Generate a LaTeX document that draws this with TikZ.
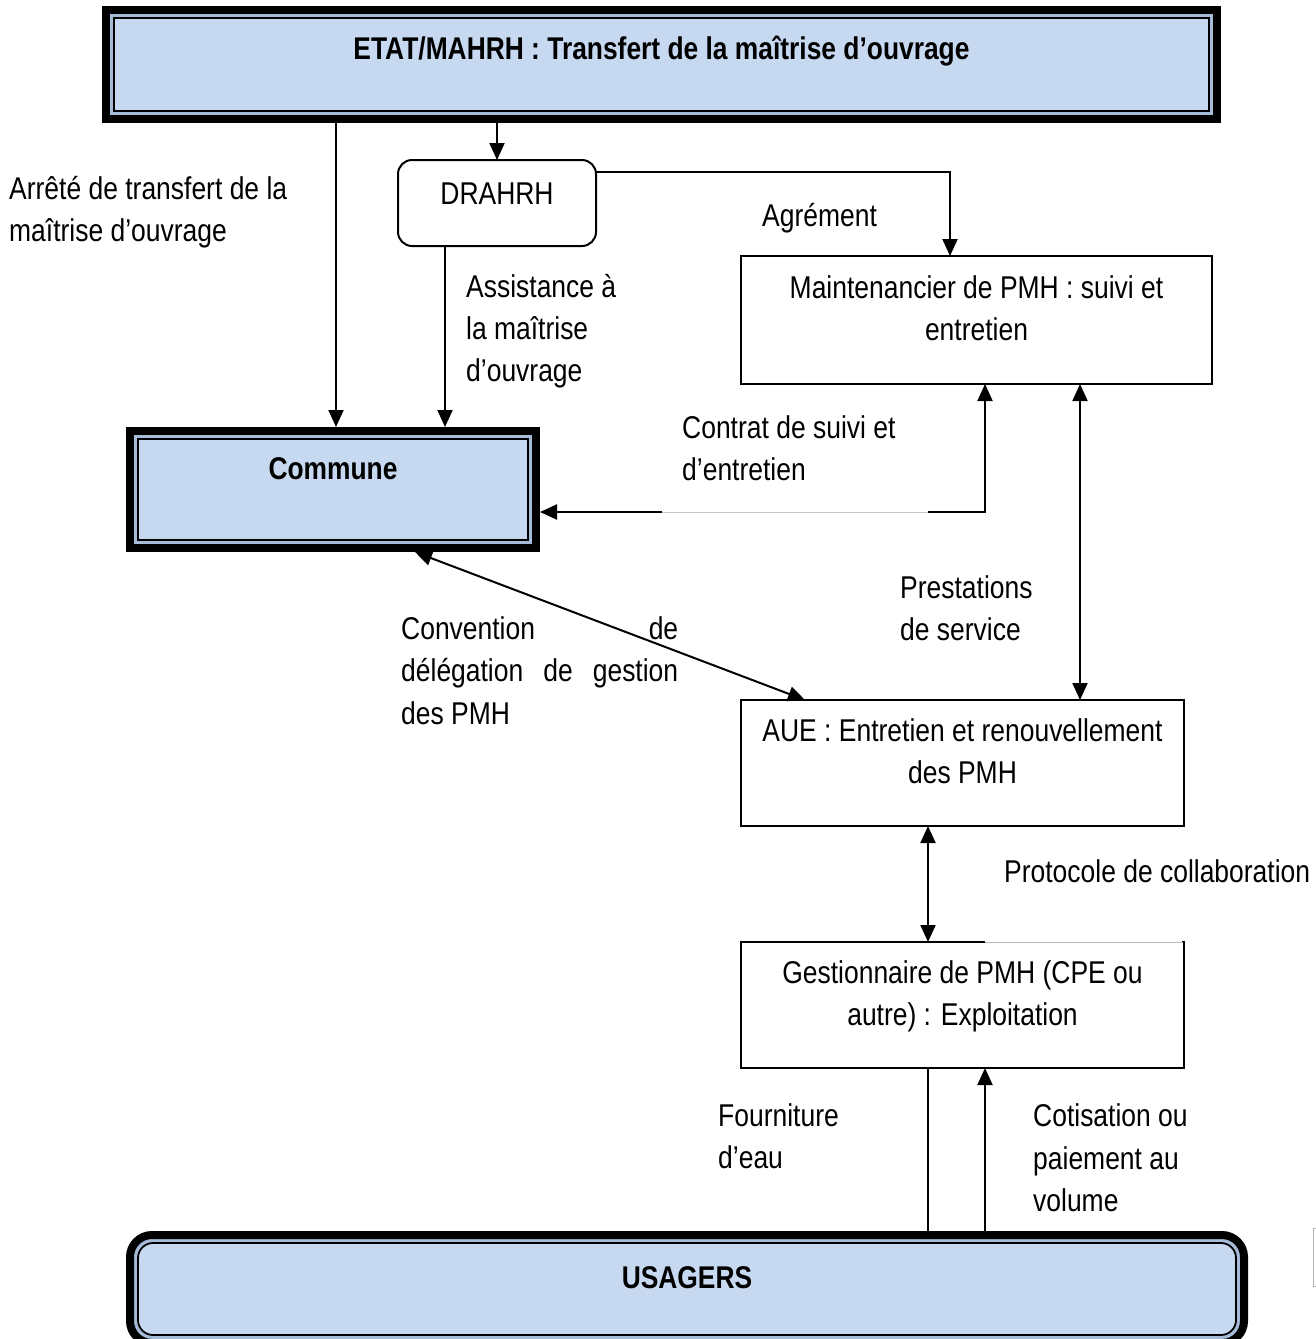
\documentclass[tikz,border=0pt]{standalone}
\usepackage{fontspec}
\setmainfont{Liberation Sans}[FakeStretch=0.84]
\usetikzlibrary{arrows.meta}
\definecolor{boxblue}{RGB}{198,217,240}
\definecolor{gapblue}{RGB}{165,187,216}
\tikzset{
 tipA/.tip={Triangle[length=17pt,width=15pt]},
 arr/.style={line width=2pt, -tipA},
 darr/.style={line width=2pt, tipA-tipA},
 plainbox/.style={draw, line width=2pt, rectangle, inner sep=0pt, outer sep=0pt, anchor=north west},
 heavybox/.style={draw, line width=8pt, fill=gapblue, rectangle, inner sep=0pt, anchor=north west},
 innerline/.style={draw, line width=1.8pt, fill=boxblue},
 lbl/.style={inner sep=0pt, align=left, anchor=north west, font=\fontsize{31.5}{42.4}\selectfont},
 ctxt/.style={inner sep=0pt, align=center, anchor=north, font=\fontsize{31.5}{42.4}\selectfont},
 btxt/.style={inner sep=0pt, align=center, anchor=north, font=\fontsize{31.4}{42.4}\selectfont\bfseries},
}
\begin{document}
\begin{tikzpicture}[x=1pt,y=-1pt]
\useasboundingbox (0,0) rectangle (1316,1339);
\fill[white] (0,0) rectangle (1316,1339);

% boxes (heavy boxes: anchors lie on the outer edge of the thick line)
\node[heavybox, minimum width=1111pt, minimum height=109pt] (etat) at (102,6) {};
\draw[innerline] ([shift={(12,12)}]etat.north west) rectangle ([shift={(-12,-12)}]etat.south east);

\node[heavybox, minimum width=406pt, minimum height=117pt] (commune) at (126,427) {};
\draw[innerline] ([shift={(12,12)}]commune.north west) rectangle ([shift={(-12,-12)}]commune.south east);

\node[heavybox, rounded corners=22pt, minimum width=1114pt, minimum height=108pt] (usagers) at (126,1231) {};
\draw[innerline, rounded corners=15pt] ([shift={(12,12)}]usagers.north west) rectangle ([shift={(-12,-12)}]usagers.south east);

\node[plainbox, rounded corners=14pt, minimum width=198pt, minimum height=86pt] (drahrh) at (398,160) {};
\node[plainbox, minimum width=471pt, minimum height=128pt] (maint) at (741,256) {};
\node[plainbox, minimum width=443pt, minimum height=126pt] (aue) at (741,700) {};
\node[plainbox, minimum width=443pt, minimum height=126pt] (gest) at (741,942) {};
\draw[white, line width=2.5pt] (985,942) -- (1182,942);
\draw[gray!55, line width=1pt] (985,942) -- (1183,942);

% helper coordinates
\coordinate (xA) at (336,0);
\coordinate (yB) at (0,172);
\coordinate (xB) at (950,0);
\coordinate (xC) at (445,0);
\coordinate (yD) at (0,512);
\coordinate (xD) at (985,0);
\coordinate (xE) at (1080,0);
\coordinate (xF) at (415,0);
\coordinate (xG) at (805,0);
\coordinate (xH) at (928,0);

% connectors
\draw[arr] (etat.south -| xA) -- (commune.north -| xA);
\draw[arr] (etat.south -| drahrh.north) -- (drahrh.north);
\draw[arr] (drahrh.east |- yB) -| (maint.north -| xB);
\draw[arr] (drahrh.south -| xC) -- (commune.north -| xC);
\draw[darr] (commune.east |- yD) -| (maint.south -| xD);
\draw[white, line width=3pt] (662,512) -- (928,512);
\draw[gray!45, line width=0.8pt] (662,512) -- (928,512);
\draw[darr] (maint.south -| xE) -- (aue.north -| xE);
\draw[darr] (commune.south -| xF) -- (aue.north -| xG);
\draw[darr] (aue.south -| xH) -- (gest.north -| xH);
\draw[line width=1.5pt] (gest.south -| xH) -- (usagers.north -| xH);
\draw[arr] (usagers.north -| xD) -- (gest.south -| xD);

% small clipped frame at the right edge
\draw[gray!60, line width=1pt] (1320,1228) -- (1313,1228) -- (1313,1286) -- (1320,1286);

% texts
\node[btxt] (t-etat) at (661.5,29.6) {\strut ETAT/MAHRH : Transfert de la maîtrise d’ouvrage};
\node[lbl] (t-arrete) at (9,169.6) {\strut Arrêté de transfert de la\\maîtrise d’ouvrage};
\node[ctxt] (t-drahrh) at (497,174.3) {\strut DRAHRH};
\node[lbl] (t-agr) at (762,196.3) {\strut Agrément};
\node[lbl] (t-assist) at (466,267.3) {\strut Assistance à\\la maîtrise\\d’ouvrage};
\node[ctxt] (t-maint) at (976.5,268.3) {\strut Maintenancier de PMH : suivi et\\entretien};
\node[lbl] (t-contrat) at (682,408.3) {\strut Contrat de suivi et\\d’entretien};
\node[btxt] (t-commune) at (333,449.6) {\strut Commune};
\node[lbl] (t-prest) at (900,568.3) {\strut Prestations\\de service};
\node[lbl] (t-conv) at (401,609.6) {\strut\makebox[277pt][s]{Convention\hfill de}\\\makebox[277pt][s]{délégation de gestion}\\des PMH};
\node[ctxt] (t-aue) at (962.5,711.3) {\strut AUE : Entretien et renouvellement\\des PMH};
\node[lbl] (t-proto) at (1004,853) {\strut Protocole de collaboration};
\node[ctxt] (t-gest) at (962.5,953.3) {\strut Gestionnaire de PMH (CPE ou\\autre) : Exploitation};
\node[lbl] (t-fourn) at (718,1096.3) {\strut Fourniture\\d’eau};
\node[lbl] (t-cotis) at (1033,1097) {\strut Cotisation ou\\paiement au\\volume};
\node[btxt] (t-usag) at (687,1258.3) {\strut USAGERS};
\end{tikzpicture}
\end{document}
